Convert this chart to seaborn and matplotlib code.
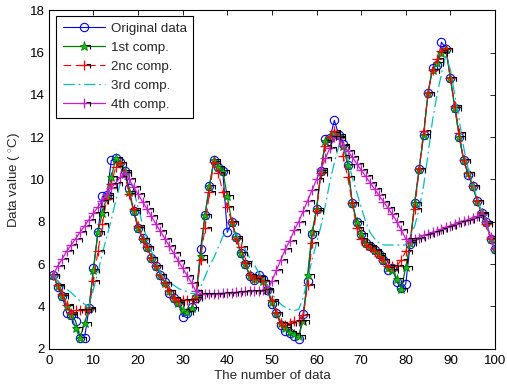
import matplotlib
matplotlib.use("Agg")
import matplotlib.pyplot as plt
import seaborn as sns
from matplotlib.path import Path
from matplotlib.lines import Line2D
from matplotlib.legend_handler import HandlerTuple

# ---------------- data ----------------
idx = list(range(1, 101))

original = [5.5, 4.9, 4.5, 3.7, 3.6, 3.3, 2.5, 2.5, 3.9, 5.8,
            7.5, 9.2, 9.25, 10.9, 11.0, 10.85, 10.4, 9.6, 8.5, 7.7,
            7.25, 6.8, 6.3, 5.9, 5.5, 5.15, 4.65, 4.4, 4.2, 3.5,
            3.7, 3.95, 4.4, 6.7, 8.3, 9.7, 10.9, 10.6, 10.4, 7.5,
            8.0, 7.3, 6.5, 6.0, 5.45, 5.25, 5.5, 5.3, 4.75, 4.1,
            3.7, 3.1, 2.85, 2.75, 2.6, 2.45, 3.65, 5.2, 7.4, 8.6,
            10.4, 11.9, 11.95, 12.8, 12.1, 11.7, 10.7, 8.9, 8.0, 7.4,
            7.0, 6.85, 6.65, 6.45, 6.2, 5.7, 5.8, 5.15, 4.85, 5.05,
            6.95, 8.9, 10.5, 12.1, 14.1, 15.3, 15.4, 16.5, 16.2, 14.8,
            13.4, 12.0, 10.9, 10.2, 9.7, 9.0, 8.4, 8.0, 7.2, 6.7]

comp1 = [5.5, 4.95, 4.5, 4.0, 3.6, 2.95, 2.5, 3.2, 3.9, 5.7,
         7.5, 8.4, 9.2, 10.1, 11.0, 10.8, 10.4, 9.4, 8.5, 7.7,
         7.2, 6.8, 6.3, 5.9, 5.5, 5.1, 4.7, 4.4, 4.15, 3.8,
         3.75, 3.9, 4.5, 6.4, 8.3, 9.7, 10.9, 10.6, 10.4, 9.2,
         8.0, 7.3, 6.5, 6.0, 5.5, 5.3, 5.4, 5.2, 4.8, 4.2,
         3.7, 3.2, 2.95, 2.8, 2.7, 2.6, 3.3, 5.5, 7.5, 8.6,
         10.4, 11.8, 12.0, 12.2, 12.1, 11.6, 10.7, 8.9, 8.0, 7.4,
         7.0, 6.85, 6.65, 6.45, 6.2, 5.8, 5.7, 5.3, 4.8, 5.85,
         7.0, 8.9, 10.5, 12.1, 14.1, 15.2, 15.5, 16.0, 16.2, 14.8,
         13.4, 12.0, 10.9, 10.3, 9.7, 9.0, 8.4, 8.0, 7.2, 6.7]

comp2 = [5.5, 5.0, 4.6, 4.05, 3.7, 3.8, 3.8, 3.8, 3.85, 5.2,
         6.6, 7.9, 9.1, 9.8, 10.6, 10.8, 10.3, 9.3, 8.6, 7.8,
         7.2, 6.8, 6.3, 5.9, 5.5, 5.1, 4.7, 4.4, 4.25, 4.3,
         4.3, 4.3, 4.4, 6.2, 7.7, 9.4, 10.85, 10.3, 9.4, 8.7,
         8.0, 7.2, 6.8, 6.1, 5.5, 5.3, 5.4, 5.2, 4.8, 4.3,
         3.7, 3.2, 3.1, 3.2, 3.3, 3.3, 3.6, 5.0, 7.0, 8.5,
         10.3, 11.6, 12.0, 12.3, 12.0, 11.1, 10.1, 8.9, 7.7, 7.2,
         6.9, 6.8, 6.6, 6.4, 6.2, 5.9, 5.9, 5.9, 6.2, 6.6,
         7.2, 8.6, 10.5, 12.3, 14.1, 15.2, 15.7, 16.1, 16.2, 14.8,
         13.5, 12.2, 10.9, 10.3, 9.7, 9.0, 8.4, 7.9, 7.2, 6.7]

comp3 = [5.5, 5.2, 5.0, 4.8, 4.65, 4.45, 4.25, 4.1, 4.0, 4.8,
         5.6, 6.5, 7.3, 8.1, 9.0, 9.8, 10.3, 10.1, 9.5, 8.7,
         7.9, 7.2, 6.6, 6.1, 5.6, 5.25, 5.1, 5.0, 4.85, 4.75,
         4.7, 4.6, 4.6, 4.9, 5.4, 5.9, 6.3, 6.8, 7.3, 7.6,
         7.6, 7.4, 7.1, 6.7, 6.3, 6.0, 5.6, 5.3, 5.0, 4.6,
         4.3, 4.1, 3.95, 3.85, 3.8, 3.85, 4.4, 5.3, 6.2, 7.0,
         7.8, 8.8, 9.9, 10.8, 11.6, 11.7, 11.0, 10.1, 9.4, 8.7,
         8.0, 7.5, 7.2, 7.0, 6.9, 6.9, 6.9, 6.9, 6.9, 6.9,
         7.3, 7.8, 8.6, 9.7, 11.2, 12.8, 14.0, 15.0, 15.9, 15.2,
         14.0, 12.8, 11.5, 10.5, 9.8, 9.1, 8.5, 8.0, 7.2, 6.7]

comp4 = [5.5, 5.9, 6.25, 6.6, 6.9, 7.2, 7.5, 7.8, 8.1, 8.4,
         8.7, 9.0, 9.3, 9.6, 9.85, 10.1, 10.3, 10.0, 9.65, 9.3,
         8.95, 8.6, 8.25, 7.9, 7.55, 7.2, 6.85, 6.5, 6.15, 5.8,
         5.45, 5.1, 4.7, 4.6, 4.6, 4.6, 4.6, 4.6, 4.62, 4.64,
         4.65, 4.66, 4.68, 4.7, 4.7, 4.72, 4.74, 4.75, 4.75, 5.2,
         5.7, 6.2, 6.7, 7.1, 7.6, 8.0, 8.5, 9.0, 9.5, 10.0,
         10.5, 11.0, 11.5, 12.0, 11.95, 11.65, 11.35, 11.05, 10.75, 10.45,
         10.15, 9.85, 9.55, 9.25, 8.95, 8.65, 8.35, 8.0, 7.6, 7.2,
         7.1, 7.2, 7.25, 7.35, 7.4, 7.5, 7.55, 7.65, 7.75, 7.8,
         7.9, 8.0, 8.05, 8.1, 8.2, 8.25, 8.35, 8.0, 7.3, 6.7]

labels = ["Original data", "1st comp.", "2nc comp.", "3rd comp.", "4th comp."]
x_ticks = list(range(0, 101, 10))
y_ticks = list(range(2, 19, 2))

# ---------------- style ----------------
sns.set_theme(style="white")
plt.rcParams['font.family'] = ['Liberation Sans', 'DejaVu Sans']
plt.rcParams['mathtext.fontset'] = 'custom'
plt.rcParams['mathtext.rm'] = 'Liberation Sans'
FS = 9.6

fig = plt.figure(figsize=(5.07, 3.90), dpi=100)
ax = fig.add_axes([0.0963, 0.1064, 0.8800, 0.8667])

c_blue = (0, 0, 1)
c_green = (0, 0.5, 0)
c_green_m = (0.1, 0.75, 0.1)
c_red = (1, 0, 0)
c_cyan = (0, 0.75, 0.75)
c_mag = (0.8, 0.1, 0.8)

# black "shadow" tick next to markers (MATLAB rendering artefact)
shadow_path = Path([(0.35, 0.1), (0.8, 0.1), (0.8, -0.45)],
                   [Path.MOVETO, Path.LINETO, Path.LINETO])
SH_MS = 8

common = dict(ax=ax, errorbar=None, sort=False)

sns.lineplot(x=idx, y=original, color=c_blue, lw=0.8, marker='o',
             markersize=6, markerfacecolor='none', markeredgecolor=c_blue,
             markeredgewidth=0.8, label=labels[0], **common)
sns.lineplot(x=idx, y=comp1, color=c_green, lw=0.9, marker='*', markersize=6.5,
             markerfacecolor=c_green_m, markeredgecolor=c_green, markeredgewidth=0.6,
             label=labels[1], **common)
sns.lineplot(x=idx, y=comp2, color=c_red, lw=0.8, linestyle=(0, (7, 4)), marker='+',
             markersize=7, markeredgecolor=c_red, markeredgewidth=0.9,
             label=labels[2], **common)
sns.lineplot(x=idx, y=comp3, color=c_cyan, lw=0.9, linestyle=(0, (9, 3, 1.5, 3)),
             label=labels[3], **common)
sns.lineplot(x=idx, y=comp4, color=c_mag, lw=0.9, marker='+', markersize=6.5,
             markeredgecolor=c_mag, markeredgewidth=0.9,
             label=labels[4], **common)

for ser in (comp1, comp2, comp4):
    sns.lineplot(x=idx, y=ser, color='black', linestyle='', marker=shadow_path,
                 markersize=SH_MS, markeredgecolor='black', markerfacecolor='none',
                 markeredgewidth=0.8, legend=False, label='_nolegend_', **common)

main = ax.get_lines()[:5]


def sh():
    return Line2D([], [], linestyle='', marker=shadow_path, markersize=SH_MS,
                  markeredgecolor='black', markerfacecolor='none', markeredgewidth=0.8)


handles = [main[0], (main[1], sh()), (main[2], sh()), main[3], (main[4], sh())]
leg = ax.legend(handles, labels, loc='upper left', bbox_to_anchor=(0.016, 0.984),
                borderaxespad=0, fontsize=FS, frameon=True, fancybox=False,
                edgecolor='black', framealpha=1, handlelength=3.2,
                handletextpad=0.4, labelspacing=0.5, borderpad=0.5, numpoints=1,
                handler_map={tuple: HandlerTuple(ndivide=1, pad=0)})
leg.get_frame().set_linewidth(0.8)

ax.set_xlim(0, 100)
ax.set_ylim(2, 18)
ax.set_xticks(x_ticks)
ax.set_yticks(y_ticks)
ax.tick_params(direction='in', length=3.5, width=0.6, top=True, right=True,
               labelsize=FS, colors='black')
ax.tick_params(axis='x', pad=4.5)
ax.tick_params(axis='y', pad=3)
for s in ax.spines.values():
    s.set_color('black')
    s.set_linewidth(0.8)
ax.set_xlabel("The number of data", fontsize=FS, labelpad=2)
ax.set_ylabel("Data value ( $^{\\circ}$C)", fontsize=FS, labelpad=5)

fig.savefig("out.png", dpi=100)
